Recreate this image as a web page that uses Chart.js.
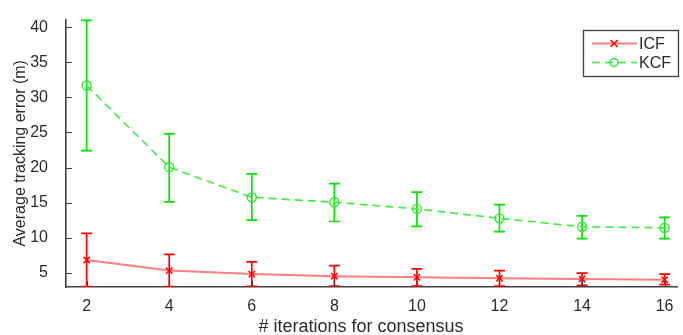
<!DOCTYPE html>
<html lang="en">
<head>
  <meta charset="UTF-8">
  <title>Average tracking error vs iterations</title>
  <script src="https://cdn.jsdelivr.net/npm/chart.js"></script>
  <style>
    body { margin: 0; background: #fff; }
    canvas { display: block; }
  </style>
</head>
<body>
  <canvas id="errChart" width="683" height="335"></canvas>

  <script>
    // --- data ---
    const iterations = [2, 4, 6, 8, 10, 12, 14, 16];

    const icfMean = [6.8, 5.3, 4.8, 4.5, 4.35, 4.2, 4.1, 4.0];
    const icfLow  = [3.0, 3.0, 3.05, 3.1, 3.1, 3.1, 3.2, 3.3];
    const icfHigh = [10.6, 7.6, 6.55, 6.0, 5.55, 5.3, 4.95, 4.8];

    const kcfMean = [31.7, 20.05, 15.75, 15.05, 14.1, 12.75, 11.55, 11.4];
    const kcfLow  = [22.4, 15.1, 12.5, 12.3, 11.6, 10.85, 9.85, 9.85];
    const kcfHigh = [41.0, 24.8, 19.1, 17.7, 16.5, 14.7, 13.1, 12.9];

    const xTicks = [2, 4, 6, 8, 10, 12, 14, 16];
    const yTicks = [5, 10, 15, 20, 25, 30, 35, 40];

    const xTitle = '# iterations for consensus';
    const yTitle = 'Average tracking error (m)';

    const axisColor = '#404040';
    const textColor = '#2b2b2b';
    const font = 'Liberation Sans, Arial, sans-serif';

    // error bars with caps, drawn under the markers
    const errorBars = {
      id: 'errorBars',
      beforeDatasetsDraw(chart) {
        const { ctx, chartArea: a, scales: { x, y } } = chart;
        ctx.save();
        ctx.beginPath();
        ctx.rect(a.left, a.top - 1, a.right - a.left, a.bottom - a.top + 1);
        ctx.clip();
        chart.data.datasets.forEach(ds => {
          ctx.strokeStyle = ds.barColor;
          ctx.lineWidth = 1.7;
          ds.low.forEach((lo, i) => {
            const px = x.getPixelForValue(iterations[i]);
            const p1 = y.getPixelForValue(lo);
            const p2 = y.getPixelForValue(ds.high[i]);
            ctx.beginPath();
            ctx.moveTo(px, p1); ctx.lineTo(px, p2);
            ctx.moveTo(px - 5.5, p1); ctx.lineTo(px + 5.5, p1);
            ctx.moveTo(px - 5.5, p2); ctx.lineTo(px + 5.5, p2);
            ctx.stroke();
          });
        });
        ctx.restore();
      }
    };

    // inward tick marks, x title, boxed legend
    const decorations = {
      id: 'decorations',
      afterDraw(chart) {
        const { ctx, chartArea: a, scales: { x, y } } = chart;
        ctx.save();
        ctx.strokeStyle = axisColor;
        ctx.lineWidth = 1.2;
        ctx.beginPath();
        yTicks.forEach(v => {
          const py = Math.round(y.getPixelForValue(v)) + 0.5;
          ctx.moveTo(a.left, py); ctx.lineTo(a.left + 6, py);
        });
        xTicks.forEach(v => {
          const px = Math.round(x.getPixelForValue(v)) + 0.5;
          ctx.moveTo(px, a.bottom); ctx.lineTo(px, a.bottom - 6);
        });
        ctx.stroke();

        // x axis title
        ctx.fillStyle = textColor;
        ctx.font = '18px ' + font;
        ctx.textAlign = 'center';
        ctx.textBaseline = 'alphabetic';
        ctx.fillText(xTitle, 361, 332);

        // legend
        const bx = 583, by = 30, bw = 95, bh = 46;
        ctx.fillStyle = '#fff';
        ctx.fillRect(bx, by, bw, bh);
        ctx.strokeStyle = axisColor;
        ctx.lineWidth = 1.3;
        ctx.strokeRect(bx + 0.5, by + 0.5, bw, bh);
        chart.data.datasets.forEach((ds, i) => {
          const ly = by + 13.5 + i * 19;
          ctx.save();
          ctx.strokeStyle = ds.borderColor;
          ctx.lineWidth = ds.borderWidth;
          ctx.setLineDash(ds.borderDash || []);
          ctx.beginPath();
          ctx.moveTo(592, ly); ctx.lineTo(637, ly);
          ctx.stroke();
          ctx.restore();
          ctx.strokeStyle = ds.pointBorderColor;
          ctx.lineWidth = 1.5;
          ctx.beginPath();
          if (ds.pointStyle === 'circle') {
            ctx.arc(614, ly, 4, 0, Math.PI * 2);
          } else {
            ctx.moveTo(610.5, ly - 3.5); ctx.lineTo(617.5, ly + 3.5);
            ctx.moveTo(610.5, ly + 3.5); ctx.lineTo(617.5, ly - 3.5);
          }
          ctx.stroke();
          ctx.fillStyle = textColor;
          ctx.font = '16px ' + font;
          ctx.textAlign = 'left';
          ctx.textBaseline = 'middle';
          ctx.fillText(ds.label, 639, ly + 1);
        });
        ctx.restore();
      }
    };

    const ctx = document.getElementById('errChart').getContext('2d');
    new Chart(ctx, {
      type: 'line',
      data: {
        datasets: [
          {
            label: 'ICF',
            data: iterations.map((v, i) => ({ x: v, y: icfMean[i] })),
            low: icfLow, high: icfHigh, barColor: '#ff0000',
            borderColor: 'rgba(255,40,40,0.6)', borderWidth: 2,
            pointStyle: 'crossRot', pointRadius: 4.5,
            pointBorderColor: '#ff0000', pointBorderWidth: 1.5,
            pointBackgroundColor: 'transparent'
          },
          {
            label: 'KCF',
            data: iterations.map((v, i) => ({ x: v, y: kcfMean[i] })),
            low: kcfLow, high: kcfHigh, barColor: '#00e600',
            borderColor: '#3fee3f', borderWidth: 1.6, borderDash: [8, 5],
            pointStyle: 'circle', pointRadius: 4.5,
            pointBorderColor: '#2ee62e', pointBorderWidth: 1.4,
            pointBackgroundColor: 'transparent'
          }
        ]
      },
      options: {
        responsive: false,
        animation: false,
        layout: { padding: { top: 14, right: 0, left: 0, bottom: 0 } },
        plugins: { legend: { display: false }, tooltip: { enabled: false } },
        scales: {
          x: {
            type: 'linear', min: 1.5, max: 16.3,
            grid: { display: false },
            border: { display: true, color: axisColor, width: 1.6 },
            afterBuildTicks: s => { s.ticks = xTicks.map(v => ({ value: v })); },
            afterFit: s => { s.height = 48; },
            ticks: { color: textColor, font: { family: font, size: 16 }, padding: 2, maxRotation: 0 }
          },
          y: {
            type: 'linear', min: 2.96, max: 41.1,
            grid: { display: false },
            border: { display: true, color: axisColor, width: 1.6 },
            afterBuildTicks: s => { s.ticks = yTicks.map(v => ({ value: v })); },
            afterFit: s => { s.width = 66; },
            ticks: { color: textColor, font: { family: font, size: 16 }, padding: 10 },
            title: {
              display: true, text: yTitle, color: textColor,
              font: { family: font, size: 16 }, padding: { top: 11, bottom: 0 }
            }
          }
        }
      },
      plugins: [errorBars, decorations]
    });
  </script>
</body>
</html>
